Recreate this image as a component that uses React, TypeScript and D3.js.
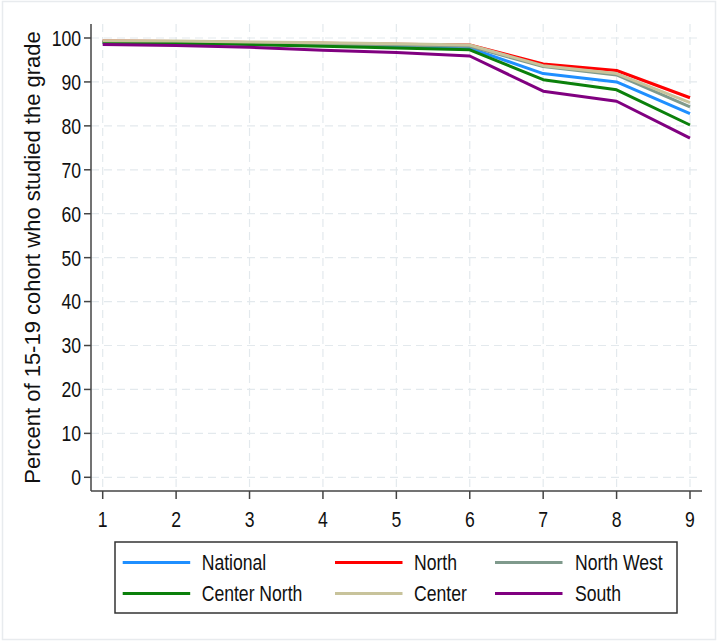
import React from "react";
import * as d3 from "d3";

const grades = [1, 2, 3, 4, 5, 6, 7, 8, 9];
const seriesNames = ["National", "North", "North West", "Center North", "Center", "South"];
const national = [99.1, 98.9, 98.7, 98.4, 98.1, 97.7, 91.9, 90.0, 82.8];
const north = [99.3, 99.2, 99.0, 98.8, 98.6, 98.4, 94.1, 92.6, 86.4];
const northWest = [99.2, 99.1, 98.9, 98.6, 98.4, 98.1, 93.5, 91.6, 84.3];
const centerNorth = [99.0, 98.8, 98.5, 98.1, 97.7, 97.3, 90.5, 88.2, 80.2];
const center = [99.4, 99.3, 99.1, 98.9, 98.7, 98.4, 93.7, 91.9, 85.3];
const south = [98.5, 98.3, 97.9, 97.2, 96.7, 95.9, 87.9, 85.6, 77.2];
const seriesValues = [national, north, northWest, centerNorth, center, south];
const seriesColors = ["#1f8fff", "#ff0000", "#7f9a8c", "#0b800b", "#c8c39b", "#800080"];
const yTicks = [0, 10, 20, 30, 40, 50, 60, 70, 80, 90, 100];
const yTitle = "Percent of 15-19 cohort who studied the grade";

const W = 718;
const H = 642;
const SX = 0.8;

function NarrowText(props: {
  x: number;
  y: number;
  anchor?: string;
  dy?: string;
  children: React.ReactNode;
}) {
  return (
    <text
      transform={`translate(${props.x}, ${props.y}) scale(${SX}, 1)`}
      dy={props.dy}
      textAnchor={props.anchor || "start"}
      fontFamily="'Liberation Sans', Arial, sans-serif"
      fontSize={22}
      fill="#111"
    >
      {props.children}
    </text>
  );
}

export default function App() {
  const x = d3.scaleLinear().domain([1, 9]).range([102.7, 690]);
  const y = d3.scaleLinear().domain([0, 100]).range([477.3, 38]);
  const plotLeft = 91;
  const plotRight = 702;
  const plotTop = 24;
  const plotBottom = 491;
  const line = d3
    .line<number>()
    .x((_, i) => x(grades[i]))
    .y((d) => y(d));
  const regular = "'Liberation Sans', Arial, sans-serif";
  const gridColor = "#e3e9ed";

  const legendX = 115;
  const legendY = 542;
  const legendW = 562;
  const legendH = 71;
  const colLine = [122.7, 335, 495];
  const colText = [201.7, 414, 575];
  const rowY = [562.5, 593.5];

  return (
    <svg
      width={W}
      height={H}
      style={{ position: "absolute", left: 0, top: 0, background: "#fff" }}
    >
      <rect x={0} y={0} width={W} height={H} fill="#fff" />
      <rect x={2.5} y={1.5} width={713} height={638} fill="none" stroke="#e8ebee" strokeWidth={1.5} />
      {/* grid */}
      {yTicks.map((t) => (
        <line
          key={"hy" + t}
          x1={plotLeft}
          x2={plotRight}
          y1={y(t)}
          y2={y(t)}
          stroke={gridColor}
          strokeWidth={1.2}
          strokeDasharray="8,5"
        />
      ))}
      {grades.map((g) => (
        <line
          key={"vx" + g}
          x1={x(g)}
          x2={x(g)}
          y1={plotTop}
          y2={plotBottom}
          stroke={gridColor}
          strokeWidth={1.2}
          strokeDasharray="8,5"
        />
      ))}
      {/* series */}
      {seriesValues.map((vals, i) => (
        <path
          key={seriesNames[i]}
          d={line(vals) || ""}
          fill="none"
          stroke={seriesColors[i]}
          strokeWidth={3}
          strokeLinejoin="round"
        />
      ))}
      {/* axes */}
      <line x1={plotLeft} x2={plotLeft} y1={plotTop} y2={plotBottom} stroke="#444" strokeWidth={1.5} />
      <line x1={plotLeft} x2={plotRight} y1={plotBottom} y2={plotBottom} stroke="#444" strokeWidth={1.5} />
      {yTicks.map((t) => (
        <g key={"yt" + t}>
          <line x1={plotLeft - 7} x2={plotLeft} y1={y(t)} y2={y(t)} stroke="#444" strokeWidth={1.5} />
          <NarrowText x={plotLeft - 10} y={y(t)} dy="0.36em" anchor="end">
            {t}
          </NarrowText>
        </g>
      ))}
      {grades.map((g) => (
        <g key={"xt" + g}>
          <line x1={x(g)} x2={x(g)} y1={plotBottom} y2={plotBottom + 8} stroke="#444" strokeWidth={1.5} />
          <NarrowText x={x(g)} y={526.5} anchor="middle">
            {g}
          </NarrowText>
        </g>
      ))}
      <text
        transform={`translate(40, ${(plotTop + plotBottom) / 2}) rotate(-90)`}
        textAnchor="middle"
        fontFamily={regular}
        fontSize={22}
        fill="#111"
      >
        {yTitle}
      </text>
      {/* legend */}
      <rect
        x={legendX}
        y={legendY}
        width={legendW}
        height={legendH}
        fill="#fff"
        stroke="#333"
        strokeWidth={1.5}
      />
      {seriesNames.map((name, i) => {
        const col = i % 3;
        const row = Math.floor(i / 3);
        return (
          <g key={"lg" + name}>
            <line
              x1={colLine[col]}
              x2={colLine[col] + 67.5}
              y1={rowY[row]}
              y2={rowY[row]}
              stroke={seriesColors[i]}
              strokeWidth={3}
            />
            <NarrowText x={colText[col]} y={rowY[row]} dy="0.36em">
              {name}
            </NarrowText>
          </g>
        );
      })}
    </svg>
  );
}
